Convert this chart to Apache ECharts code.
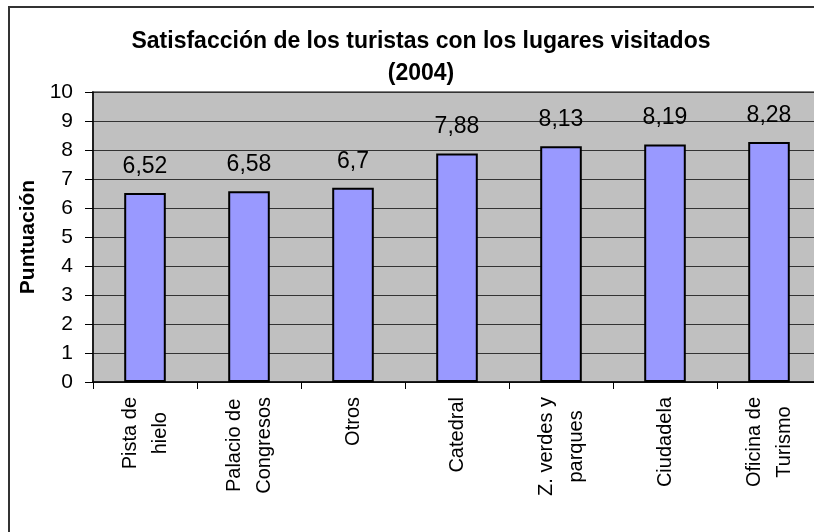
<!DOCTYPE html>
<html>
<head>
<meta charset="utf-8">
<script src="https://cdn.jsdelivr.net/npm/echarts@6/dist/echarts.min.js"></script>
<style>
html,body{margin:0;padding:0;background:#fff;}
#chart{width:814px;height:532px;}
</style>
</head>
<body>
<div id="chart"></div>
<script>
const categories = ["Pista de\nhielo", "Palacio de\nCongresos", "Otros", "Catedral", "Z. verdes y\nparques", "Ciudadela", "Oficina de\nTurismo"];
const values = [6.52, 6.58, 6.7, 7.88, 8.13, 8.19, 8.28];
const yTicks = [0, 1, 2, 3, 4, 5, 6, 7, 8, 9, 10];
const titleText = "Satisfacción de los turistas con los lugares visitados\n(2004)";
const yName = "Puntuación";

const FONT = "'Liberation Sans', Arial, sans-serif";
const X_FONT_SIZE = 20;
const LINE_PITCH = 30;
const GRID = {left: 93, top: 92, right: -7, bottom: 150};
const CHART_W = 814;

// Rotated multi-line labels: each line drawn on its own label axis, lines centred on each other
const measureCtx = document.createElement('canvas').getContext('2d');
measureCtx.font = X_FONT_SIZE + "px 'Liberation Sans', Arial, sans-serif";
const catPx = (CHART_W - GRID.left - GRID.right) / categories.length;
const delta = (LINE_PITCH / 2) / catPx; // half a line pitch, in category units
const lineAxes = [{values: [], texts: {}, rich: {}}, {values: [], texts: {}, rich: {}}];
categories.forEach(function (cat, i) {
  const lines = cat.split('\n');
  const w = lines.map(function (s) { return measureCtx.measureText(s).width; });
  const maxW = Math.max.apply(null, w);
  lines.forEach(function (s, li) {
    const ax = lineAxes[li];
    const pos = lines.length === 1 ? i : (li === 0 ? i - delta : i + delta);
    ax.values.push(pos);
    ax.texts[i] = s;
    ax.rich['r' + i] = {
      fontSize: X_FONT_SIZE, fontFamily: FONT, color: '#000',
      width: w[li] + (maxW - w[li]) / 2,
      align: 'left'
    };
  });
});

function labelAxis(ax) {
  return {
    type: 'value',
    position: 'bottom',
    min: -0.5,
    max: categories.length - 0.5,
    axisLine: {show: false, onZero: false},
    axisTick: {show: false},
    splitLine: {show: false},
    axisLabel: {
      show: true,
      rotate: 90,
      margin: 15,
      fontSize: X_FONT_SIZE,
      color: '#000',
      fontFamily: FONT,
      hideOverlap: false,
      showMinLabel: true,
      showMaxLabel: true,
      customValues: ax.values,
      formatter: function (v) {
        const idx = Math.round(v);
        return '{r' + idx + '|' + ax.texts[idx] + '}';
      },
      rich: ax.rich
    }
  };
}

const chart = echarts.init(document.getElementById('chart'), null, {renderer: 'canvas'});
chart.setOption({
  backgroundColor: '#ffffff',
  animation: false,
  textStyle: {fontFamily: FONT},
  title: {
    text: titleText,
    left: 416,
    top: 21,
    textAlign: 'center',
    textStyle: {fontFamily: FONT, fontWeight: 'bold', fontSize: 23, lineHeight: 32, color: '#000'}
  },
  graphic: [{
    type: 'rect',
    z: -10,
    shape: {x: 9, y: 7, width: 1000, height: 1000},
    style: {fill: 'none', stroke: '#333', lineWidth: 2}
  }],
  grid: {
    left: GRID.left, top: GRID.top, right: GRID.right, bottom: GRID.bottom,
    show: true, backgroundColor: '#C0C0C0', borderColor: '#808080', borderWidth: 2,
    containLabel: false,
    outerBoundsMode: 'none'
  },
  xAxis: [{
    type: 'category',
    data: categories,
    axisLine: {show: true, onZero: false, lineStyle: {color: '#000', width: 1.5}},
    axisTick: {show: true, length: 7, alignWithLabel: false, lineStyle: {color: '#000', width: 1}},
    axisLabel: {show: false}
  }, labelAxis(lineAxes[0]), labelAxis(lineAxes[1])],
  yAxis: {
    type: 'value',
    min: yTicks[0],
    max: yTicks[yTicks.length - 1],
    interval: 1,
    name: yName,
    nameLocation: 'middle',
    nameGap: 44,
    nameTextStyle: {fontFamily: FONT, fontWeight: 'bold', fontSize: 21, color: '#000'},
    axisLine: {show: true, onZero: false, lineStyle: {color: '#000', width: 1.5}},
    axisTick: {show: true, length: 8, lineStyle: {color: '#000', width: 1}},
    axisLabel: {margin: 20, fontSize: 21, color: '#000', fontFamily: FONT},
    splitLine: {show: true, lineStyle: {color: '#333', width: 1}}
  },
  series: [{
    type: 'bar',
    xAxisIndex: 0,
    data: values,
    barWidth: '40%',
    itemStyle: {color: '#9999FF', borderColor: '#000', borderWidth: 2},
    label: {
      show: true,
      position: 'top',
      distance: 15,
      fontSize: 23,
      color: '#000',
      fontFamily: FONT,
      formatter: function (p) { return String(p.value).replace('.', ','); }
    }
  }]
});
</script>
</body>
</html>
